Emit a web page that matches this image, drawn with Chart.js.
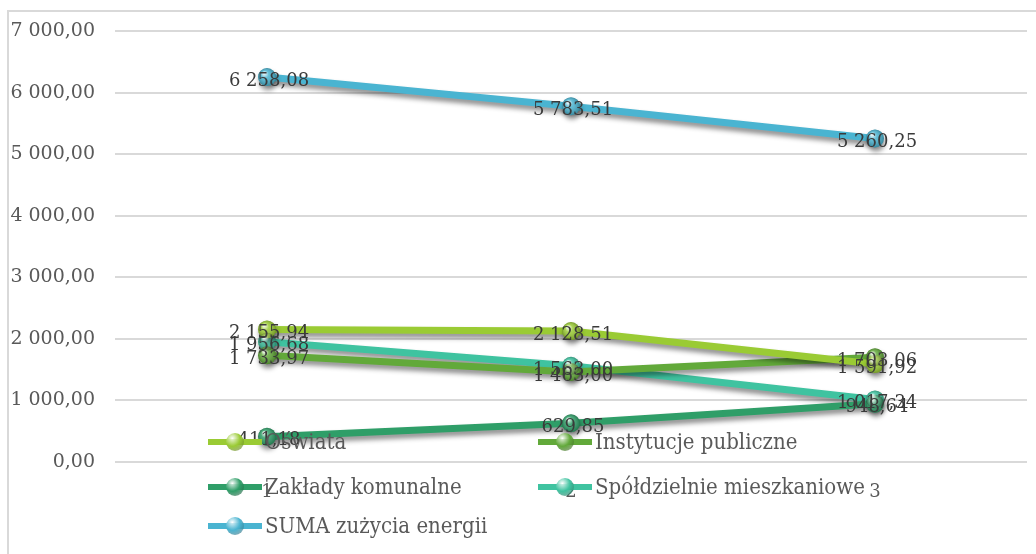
<!DOCTYPE html>
<html>
<head>
<meta charset="utf-8">
<script src="https://cdn.jsdelivr.net/npm/chart.js@4"></script>
<style>
  html, body { margin: 0; padding: 0; background: #fff; }
  #wrap { position: relative; width: 1036px; height: 554px; overflow: hidden; }
  #frame { position: absolute; left: 7px; top: 10px; width: 1100px; height: 600px; border: 2px solid #d9d9d9; box-sizing: border-box; }
  #chart { position: absolute; left: 0; top: 0; }
  #legend { position: absolute; left: 0; top: 0; width: 1036px; height: 554px; pointer-events: none; }
  .item { position: absolute; display: flex; align-items: center; font-family: "DejaVu Serif Condensed", "DejaVu Serif", serif; font-size: 22px; color: #595959; white-space: nowrap; }
  .mark { position: relative; width: 54px; height: 20px; margin-right: 3px; }
  .mark .ln { position: absolute; left: 0; top: 7px; width: 54px; height: 6px; }
  .mark .dot { position: absolute; left: 18px; top: 1px; width: 18px; height: 18px; border-radius: 50%; }
</style>
</head>
<body>
<div id="wrap">
  <div id="frame"></div>
  <canvas id="chart" width="1036" height="554"></canvas>
  <div id="legend"></div>
</div>
<script>
const categories = ["1", "2", "3"];
const yTicks = [0, 1000, 2000, 3000, 4000, 5000, 6000, 7000];

const oswiata = [2155.94, 2128.51, 1591.92];
const instytucje = [1733.97, 1463.00, 1703.06];
const zaklady = [411.18, 629.85, 948.64];
const spoldzielnie = [1956.68, 1563.00, 1017.34];
const suma = [6258.08, 5783.51, 5260.25];

const seriesNames = ["Oświata", "Instytucje publiczne", "Zakłady komunalne", "Spółdzielnie mieszkaniowe", "SUMA zużycia energii"];
const seriesData = [oswiata, instytucje, zaklady, spoldzielnie, suma];
const seriesColors = ["#9acb34", "#62a93a", "#2f9e68", "#3fc3a0", "#4ab4d1"];

const fmt = (v) => {
  let [a, b] = v.toFixed(2).split(".");
  a = a.replace(/\B(?=(\d{3})+(?!\d))/g, " ");
  return a + "," + b;
};

// shadow under each line
const shadowPlugin = {
  id: "shadow",
  beforeDatasetDraw(chart) {
    const ctx = chart.ctx;
    ctx.save();
    ctx.shadowColor = "rgba(0,0,0,0.45)";
    ctx.shadowBlur = 5;
    ctx.shadowOffsetX = 1;
    ctx.shadowOffsetY = 4;
  },
  afterDatasetDraw(chart) {
    chart.ctx.restore();
  },
};

// glossy points + value labels
const labelPlugin = {
  id: "labels",
  afterDatasetsDraw(chart) {
    const ctx = chart.ctx;
    chart.data.datasets.forEach((ds, i) => {
      const meta = chart.getDatasetMeta(i);
      meta.data.forEach((pt) => {
        const g = ctx.createRadialGradient(pt.x - 3, pt.y - 4, 1, pt.x, pt.y, 9);
        g.addColorStop(0, "rgba(255,255,255,0.85)");
        g.addColorStop(0.35, "rgba(255,255,255,0.15)");
        g.addColorStop(1, "rgba(0,0,0,0.25)");
        ctx.beginPath();
        ctx.arc(pt.x, pt.y, 9, 0, Math.PI * 2);
        ctx.fillStyle = g;
        ctx.fill();
      });
    });
    ctx.save();
    ctx.font = "18px 'DejaVu Serif', serif";
    ctx.fillStyle = "#3a3a3a";
    ctx.textAlign = "center";
    ctx.textBaseline = "middle";
    chart.data.datasets.forEach((ds, i) => {
      const meta = chart.getDatasetMeta(i);
      meta.data.forEach((pt, j) => {
        ctx.fillText(fmt(ds.data[j]), pt.x + 2, pt.y + 4);
      });
    });
    ctx.restore();
  },
};

const chart = new Chart(document.getElementById("chart"), {
  type: "line",
  data: {
    labels: categories,
    datasets: seriesNames.map((name, i) => ({
      label: name,
      data: seriesData[i],
      borderColor: seriesColors[i],
      backgroundColor: seriesColors[i],
      borderWidth: 7,
      pointRadius: 9,
      pointBorderWidth: 0,
      pointBackgroundColor: seriesColors[i],
      tension: 0,
    })),
  },
  options: {
    responsive: false,
    animation: false,
    layout: { padding: { top: 29, right: 9, left: 0, bottom: 0 } },
    plugins: {
      legend: { display: false },
      tooltip: { enabled: false },
    },
    scales: {
      x: {
        offset: true,
        grid: { display: false, drawTicks: false },
        border: { display: false },
        ticks: {
          padding: 20,
          color: "#595959",
          font: { family: "'DejaVu Serif', serif", size: 18 },
        },
        afterFit(scale) { scale.height = 92; },
      },
      y: {
        min: 0,
        max: 7000,
        afterBuildTicks(scale) { scale.ticks = yTicks.map((v) => ({ value: v })); },
        grid: { color: "#d9d9d9", lineWidth: 2, drawTicks: false },
        border: { display: false },
        ticks: {
          padding: 20,
          color: "#595959",
          font: { family: "'DejaVu Serif', serif", size: 19 },
          callback: (v) => fmt(v),
        },
        afterFit(scale) { scale.width = 115; },
      },
    },
  },
  plugins: [shadowPlugin, labelPlugin],
});

// legend laid over the plot like the original
const legendPos = [
  [208, 443], [538, 443],
  [208, 488], [538, 488],
  [208, 527],
];
const legend = document.getElementById("legend");
chart.data.datasets.forEach((ds, i) => {
  const el = document.createElement("div");
  el.className = "item";
  el.style.left = legendPos[i][0] + "px";
  el.style.top = (legendPos[i][1] - 14) + "px";
  el.innerHTML =
    '<div class="mark"><div class="ln" style="background:' + ds.borderColor + '"></div>' +
    '<div class="dot" style="background:radial-gradient(circle at 35% 30%, rgba(255,255,255,0.8), ' + ds.borderColor + ' 45%, rgba(0,0,0,0.35) 100%)"></div></div>' +
    '<span>' + ds.label + '</span>';
  legend.appendChild(el);
});
</script>
</body>
</html>
